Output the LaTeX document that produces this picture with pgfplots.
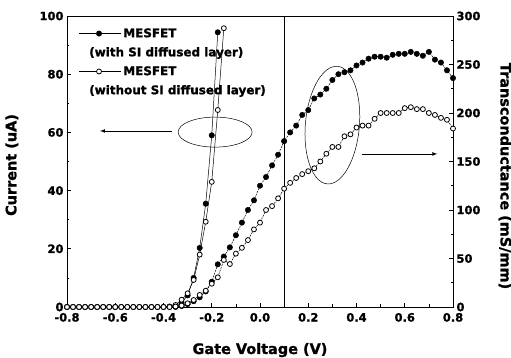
\documentclass[border=0pt]{standalone}
\usepackage{pgfplots}
\usepackage{pgfplotstable}
\pgfplotsset{compat=1.18}
\usepackage{fontspec}
\setmainfont{DejaVu Sans}[BoldFeatures={FakeBold=1.2}]
\usetikzlibrary{shapes.geometric}

% Current (uA), with SI diffused layer (filled)
\pgfplotstableread{
x y
-0.800 0
-0.775 0
-0.750 0
-0.725 0
-0.700 0
-0.675 0
-0.650 0
-0.625 0
-0.600 0
-0.575 0
-0.550 0
-0.525 0
-0.500 0
-0.475 0
-0.450 0
-0.425 0
-0.400 0
-0.375 0
-0.350 0.5
-0.325 1.5
-0.300 4.0
-0.275 10.0
-0.250 20.3
-0.225 35.5
-0.200 59.0
-0.175 94.4
}\curF

% Current (uA), without SI diffused layer (open)
\pgfplotstableread{
x y
-0.800 0
-0.775 0
-0.750 0
-0.725 0
-0.700 0
-0.675 0
-0.650 0
-0.625 0
-0.600 0
-0.575 0
-0.550 0
-0.525 0
-0.500 0
-0.475 0
-0.450 0
-0.425 0
-0.400 0
-0.375 0.2
-0.350 0.7
-0.325 2.5
-0.300 4.7
-0.275 9.3
-0.250 18.0
-0.225 29.3
-0.200 43.0
-0.175 67.7
-0.150 95.8
}\curO

% Transconductance (mS/mm), with SI diffused layer (filled)
\pgfplotstableread{
x y
-0.350 0
-0.325 1
-0.300 3
-0.275 6
-0.250 10
-0.225 16
-0.200 26
-0.175 44
-0.150 52
-0.125 61.5
-0.100 74
-0.075 87
-0.050 100
-0.025 110
0.000 125
0.025 134
0.050 146
0.075 157
0.100 171
0.125 180
0.150 187
0.175 198
0.200 203
0.225 215
0.250 219
0.275 225
0.300 234
0.325 240
0.350 242
0.375 244
0.400 249
0.425 252
0.450 256
0.475 258
0.500 258
0.525 257
0.550 260
0.575 261
0.600 261
0.625 263
0.650 261
0.675 259
0.700 263
0.725 255
0.750 252
0.775 244
0.800 236
}\gmF

% Transconductance (mS/mm), without SI diffused layer (open)
\pgfplotstableread{
x y
-0.800 0
-0.775 0
-0.750 0
-0.725 0
-0.700 0
-0.675 0
-0.650 0
-0.625 0
-0.600 0
-0.575 0
-0.550 0
-0.525 0
-0.500 0
-0.475 0
-0.450 0
-0.425 0
-0.400 0
-0.375 0
-0.350 0.5
-0.325 1.5
-0.300 3.8
-0.275 7.2
-0.250 12.4
-0.225 16.8
-0.200 24
-0.175 30.6
-0.150 48.5
-0.125 44.3
-0.100 55
-0.075 61
-0.050 69
-0.025 80
0.000 87
0.025 100
0.050 104
0.075 112
0.100 122
0.125 128
0.150 133
0.175 137
0.200 140
0.225 143
0.250 150
0.275 158
0.300 165
0.325 165
0.350 176
0.375 178
0.400 185
0.425 187
0.450 187
0.475 194
0.500 200
0.525 200
0.550 200
0.575 200
0.600 205
0.625 206
0.650 204
0.675 204
0.700 200
0.725 198
0.750 195
0.775 193
0.800 184
}\gmO

\pgfplotsset{
  filledS/.style={black, line width=0.5pt, mark=*, mark size=2.7pt, mark options={solid, fill=black}},
  openS/.style={black, line width=0.5pt, mark=*, mark size=2.5pt, mark options={solid, fill=white, line width=0.8pt}},
  common/.style={
    scale only axis, width=386bp, height=291bp,
    xmin=-0.8, xmax=0.8,
    tick align=inside,
    major tick length=4bp, minor tick length=2.5bp,
    tick style={black, line width=0.7pt},
    axis line style={line width=0.9pt},
    /pgf/number format/assume math mode=true,
    tick label style={font=\bfseries\fontsize{11.5}{13}\selectfont},
    label style={font=\bfseries\fontsize{14.5}{17}\selectfont},
  },
}

\begin{document}
\begin{tikzpicture}
\begin{axis}[common, name=ax,
  ymin=0, ymax=100,
  xtick={-0.8,-0.6,-0.4,-0.2,0,0.2,0.4,0.6,0.8},
  xticklabel style={/pgf/number format/.cd, fixed, fixed zerofill, precision=1, /tikz/yshift=-2.5bp},
  minor x tick num=1,
  ytick={0,20,40,60,80,100},
  minor y tick num=1,
  xtick pos=bottom, ytick pos=left,
  xlabel={Gate Voltage (V)},
  ylabel={Current (uA)},
  xlabel style={at={(axis description cs:0.5,-0.148)}, anchor=center},
  ylabel style={at={(axis description cs:-0.143,0.488)}, anchor=center},
  legend style={at={(axis description cs:0.03,0.965)}, anchor=north west,
    draw=none, fill=none, inner sep=0pt, row sep=4.5bp,
    font=\bfseries\fontsize{12}{14.5}\selectfont, cells={anchor=west}},
  legend image code/.code={\draw[mark repeat=2, mark phase=2, #1] plot coordinates {(0bp,0bp) (20bp,0bp) (42bp,0bp)};},
]
\addplot[filledS] table {\curF};
\addlegendentry{MESFET}
\addlegendimage{empty legend}
\addlegendentry{\hspace*{-34bp}(with SI diffused layer)}
\addplot[openS] table {\curO};
\addlegendentry{MESFET}
\addlegendimage{empty legend}
\addlegendentry{\hspace*{-34bp}(without SI diffused layer)}

\draw[line width=0.7pt] (axis cs:0.1,0) -- (axis cs:0.1,100);
\draw[line width=0.5pt] (axis cs:-0.186,60.1) ellipse [x radius=37bp, y radius=15bp];
\draw[line width=0.7pt, -latex] (axis cs:-0.364,60.5) -- (axis cs:-0.663,60.5);
\node[draw, ellipse, line width=0.5pt, minimum width=54bp, minimum height=118bp, inner sep=0pt, rotate=-5] at (axis cs:0.300,62.5) {};
\draw[line width=0.7pt, -latex] (axis cs:0.424,52.6) -- (axis cs:0.735,52.6);
\end{axis}

\begin{axis}[common,
  ymin=0, ymax=300,
  axis y line*=right, axis x line=none,
  ytick={0,50,100,150,200,250,300},
  minor y tick num=1,
  ylabel={Transconductance (mS/mm)},
  ylabel style={at={(axis description cs:1.135,0.45)}, anchor=center, rotate=180},
]
\addplot[filledS, dash pattern=on 2pt off 1pt] table {\gmF};
\addplot[openS, dash pattern=on 2pt off 1pt] table {\gmO};
\end{axis}
\pgfresetboundingbox
\path ([xshift=-67bp,yshift=-51bp]ax.south west) rectangle ([xshift=58bp,yshift=16bp]ax.north east);
\end{tikzpicture}
\end{document}
